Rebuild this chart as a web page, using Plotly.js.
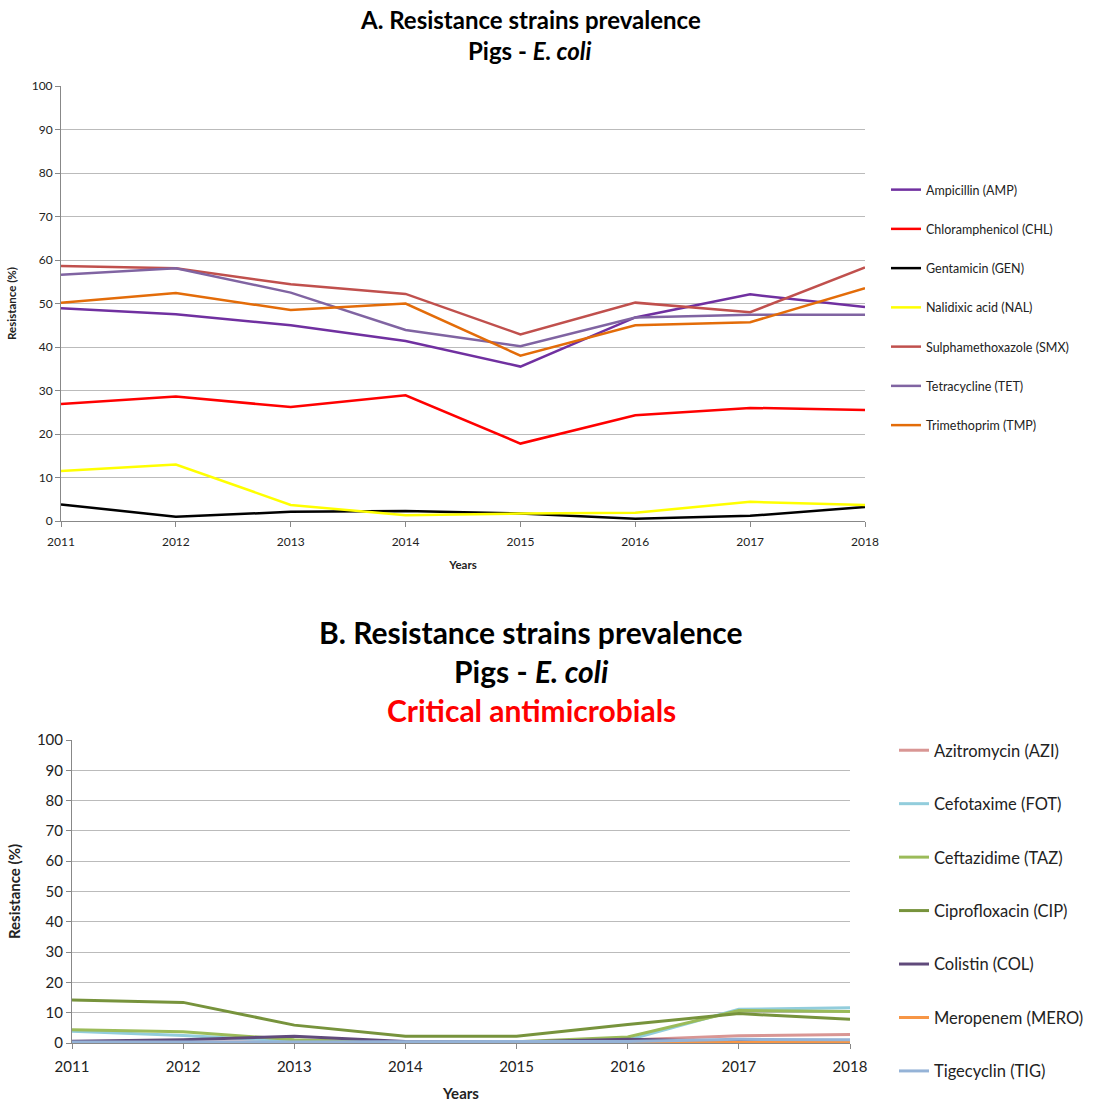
<!DOCTYPE html>
<html>
<head>
<meta charset="utf-8">
<script src="https://cdn.plot.ly/plotly-3.0.1.min.js"></script>
<style>html,body{margin:0;padding:0;background:#fff;}#chart{width:1094px;height:1102px;}</style>
</head>
<body>
<div id="chart"></div>
<script>
const years = [2011, 2012, 2013, 2014, 2015, 2016, 2017, 2018];

// Chart A
const namesA = ["Ampicillin (AMP)", "Chloramphenicol (CHL)", "Gentamicin (GEN)", "Nalidixic acid (NAL)",
  "Sulphamethoxazole (SMX)", "Tetracycline (TET)", "Trimethoprim (TMP)"];
const AMP = [48.9, 47.5, 45.0, 41.4, 35.5, 46.8, 52.1, 49.2];
const CHL = [26.9, 28.6, 26.2, 28.9, 17.8, 24.3, 26.0, 25.5];
const GEN = [3.8, 1.0, 2.1, 2.3, 1.7, 0.5, 1.2, 3.2];
const NAL = [11.5, 13.0, 3.7, 1.3, 1.7, 1.9, 4.4, 3.7];
const SMX = [58.6, 58.1, 54.4, 52.2, 42.9, 50.2, 48.0, 58.3];
const TET = [56.6, 58.1, 52.5, 43.9, 40.2, 46.8, 47.4, 47.4];
const TMP = [50.2, 52.4, 48.5, 50.0, 38.0, 45.0, 45.7, 53.5];
const seriesA = [AMP, CHL, GEN, NAL, SMX, TET, TMP];
const colorsA = ["#7030A0", "#FF0000", "#000000", "#FFFF00", "#C0504D", "#8064A2", "#E36C09"];

// Chart B
const namesB = ["Azitromycin (AZI)", "Cefotaxime (FOT)", "Ceftazidime (TAZ)", "Ciprofloxacin (CIP)",
  "Colistin (COL)", "Meropenem (MERO)", "Tigecyclin (TIG)"];
const AZI = [0.3, 0.3, 0.3, 0.3, 0.3, 1.0, 2.4, 2.8];
const FOT = [3.9, 2.5, 0.6, 0.2, 0.3, 1.0, 11.1, 11.6];
const TAZ = [4.4, 3.7, 1.1, 0.2, 0.4, 2.0, 10.7, 10.4];
const CIP = [14.2, 13.4, 5.9, 2.2, 2.2, 6.1, 9.7, 7.8];
const COL = [0.6, 1.1, 2.2, 0.5, 0.3, 1.2, 0.5, 0.3];
const MERO = [0.0, 0.0, 0.0, 0.0, 0.0, 0.0, 0.0, 0.2];
const TIG = [0.3, 0.3, 0.3, 0.3, 0.3, 0.5, 1.2, 1.1];
const seriesB = [AZI, FOT, TAZ, CIP, COL, MERO, TIG];
const colorsB = ["#D99694", "#92CDDC", "#9BBB59", "#77933C", "#604A7B", "#F79646", "#95B3D7"];

const FONT = "Lato, 'Open Sans', sans-serif";
const traces = [];
namesA.forEach((n, i) => traces.push({
  x: years, y: seriesA[i], name: n, type: "scatter", mode: "lines",
  line: {color: colorsA[i], width: 2.5}, xaxis: "x", yaxis: "y",
  legend: "legend", legendgroup: "a" + i
}));
namesB.forEach((n, i) => traces.push({
  x: years, y: seriesB[i], name: n, type: "scatter", mode: "lines",
  line: {color: colorsB[i], width: 3}, xaxis: "x2", yaxis: "y2",
  legend: "legend2", legendgroup: "b" + i
}));

const W = 1094, H = 1102;
const axCommon = {
  showline: true, linecolor: "#888", linewidth: 1, zeroline: false,
  ticks: "outside", tickcolor: "#888", ticklen: 5, fixedrange: true
};
const layout = {
  width: W, height: H, margin: {l: 0, r: 0, t: 0, b: 0},
  paper_bgcolor: "#fff", plot_bgcolor: "#fff",
  font: {family: FONT, color: "#222"},
  showlegend: true,
  xaxis: Object.assign({}, axCommon, {
    domain: [61 / W, 865 / W], anchor: "y", range: [2011, 2018], dtick: 1, showgrid: false,
    tickfont: {size: 12, color: "#222"}, ticklabelstandoff: 5,
    title: {text: "<b>Years</b>", font: {size: 11.5, color: "#222"}, standoff: 12}
  }),
  yaxis: Object.assign({}, axCommon, {
    domain: [1 - 521 / H, 1 - 86 / H], anchor: "x", range: [0, 100], dtick: 10,
    showgrid: true, gridcolor: "#bbb", gridwidth: 1,
    tickfont: {size: 12, color: "#222"},
    title: {text: "<b>Resistance (%)</b>", font: {size: 11.5, color: "#222"}, standoff: 12}
  }),
  xaxis2: Object.assign({}, axCommon, {
    domain: [72 / W, 850 / W], anchor: "y2", range: [2011, 2018], dtick: 1, showgrid: false,
    tickfont: {size: 15, color: "#222"}, ticklabelstandoff: 5,
    title: {text: "<b>Years</b>", font: {size: 15, color: "#222"}, standoff: 14}
  }),
  yaxis2: Object.assign({}, axCommon, {
    domain: [1 - 1043 / H, 1 - 740 / H], anchor: "x2", range: [0, 100], dtick: 10,
    showgrid: true, gridcolor: "#bbb", gridwidth: 1,
    tickfont: {size: 15, color: "#222"},
    title: {text: "<b>Resistance (%)</b>", font: {size: 15, color: "#222"}, standoff: 12}
  }),
  legend: {
    x: 886 / W, xanchor: "left", y: 1 - 175 / H, yanchor: "top",
    font: {size: 12.5, color: "#222"}, traceorder: "grouped", tracegroupgap: 20,
    bgcolor: "rgba(0,0,0,0)", itemwidth: 30
  },
  legend2: {
    x: 894 / W, xanchor: "left", y: 1 - 733 / H, yanchor: "top",
    font: {size: 16.5, color: "#222"}, traceorder: "grouped", tracegroupgap: 29,
    bgcolor: "rgba(0,0,0,0)", itemwidth: 30
  },
  annotations: [
    {text: "<b>A. Resistance strains prevalence</b>", x: 530 / W, y: 1 - 20 / H, xref: "paper", yref: "paper",
     xanchor: "center", yanchor: "middle", showarrow: false, font: {size: 24, color: "#000", family: FONT}},
    {text: "<b>Pigs - <i>E. coli</i></b>", x: 530 / W, y: 1 - 51 / H, xref: "paper", yref: "paper",
     xanchor: "center", yanchor: "middle", showarrow: false, font: {size: 24, color: "#000", family: FONT}},
    {text: "<b>B. Resistance strains prevalence</b>", x: 531 / W, y: 1 - 632 / H, xref: "paper", yref: "paper",
     xanchor: "center", yanchor: "middle", showarrow: false, font: {size: 30, color: "#000", family: FONT}},
    {text: "<b>Pigs - <i>E. coli</i></b>", x: 531 / W, y: 1 - 671 / H, xref: "paper", yref: "paper",
     xanchor: "center", yanchor: "middle", showarrow: false, font: {size: 30, color: "#000", family: FONT}},
    {text: "<b>Critical antimicrobials</b>", x: 531 / W, y: 1 - 710 / H, xref: "paper", yref: "paper",
     xanchor: "center", yanchor: "middle", showarrow: false, font: {size: 30, color: "#FF0000", family: FONT}}
  ]
};
Plotly.newPlot("chart", traces, layout, {displayModeBar: false, staticPlot: true});
</script>
</body>
</html>
